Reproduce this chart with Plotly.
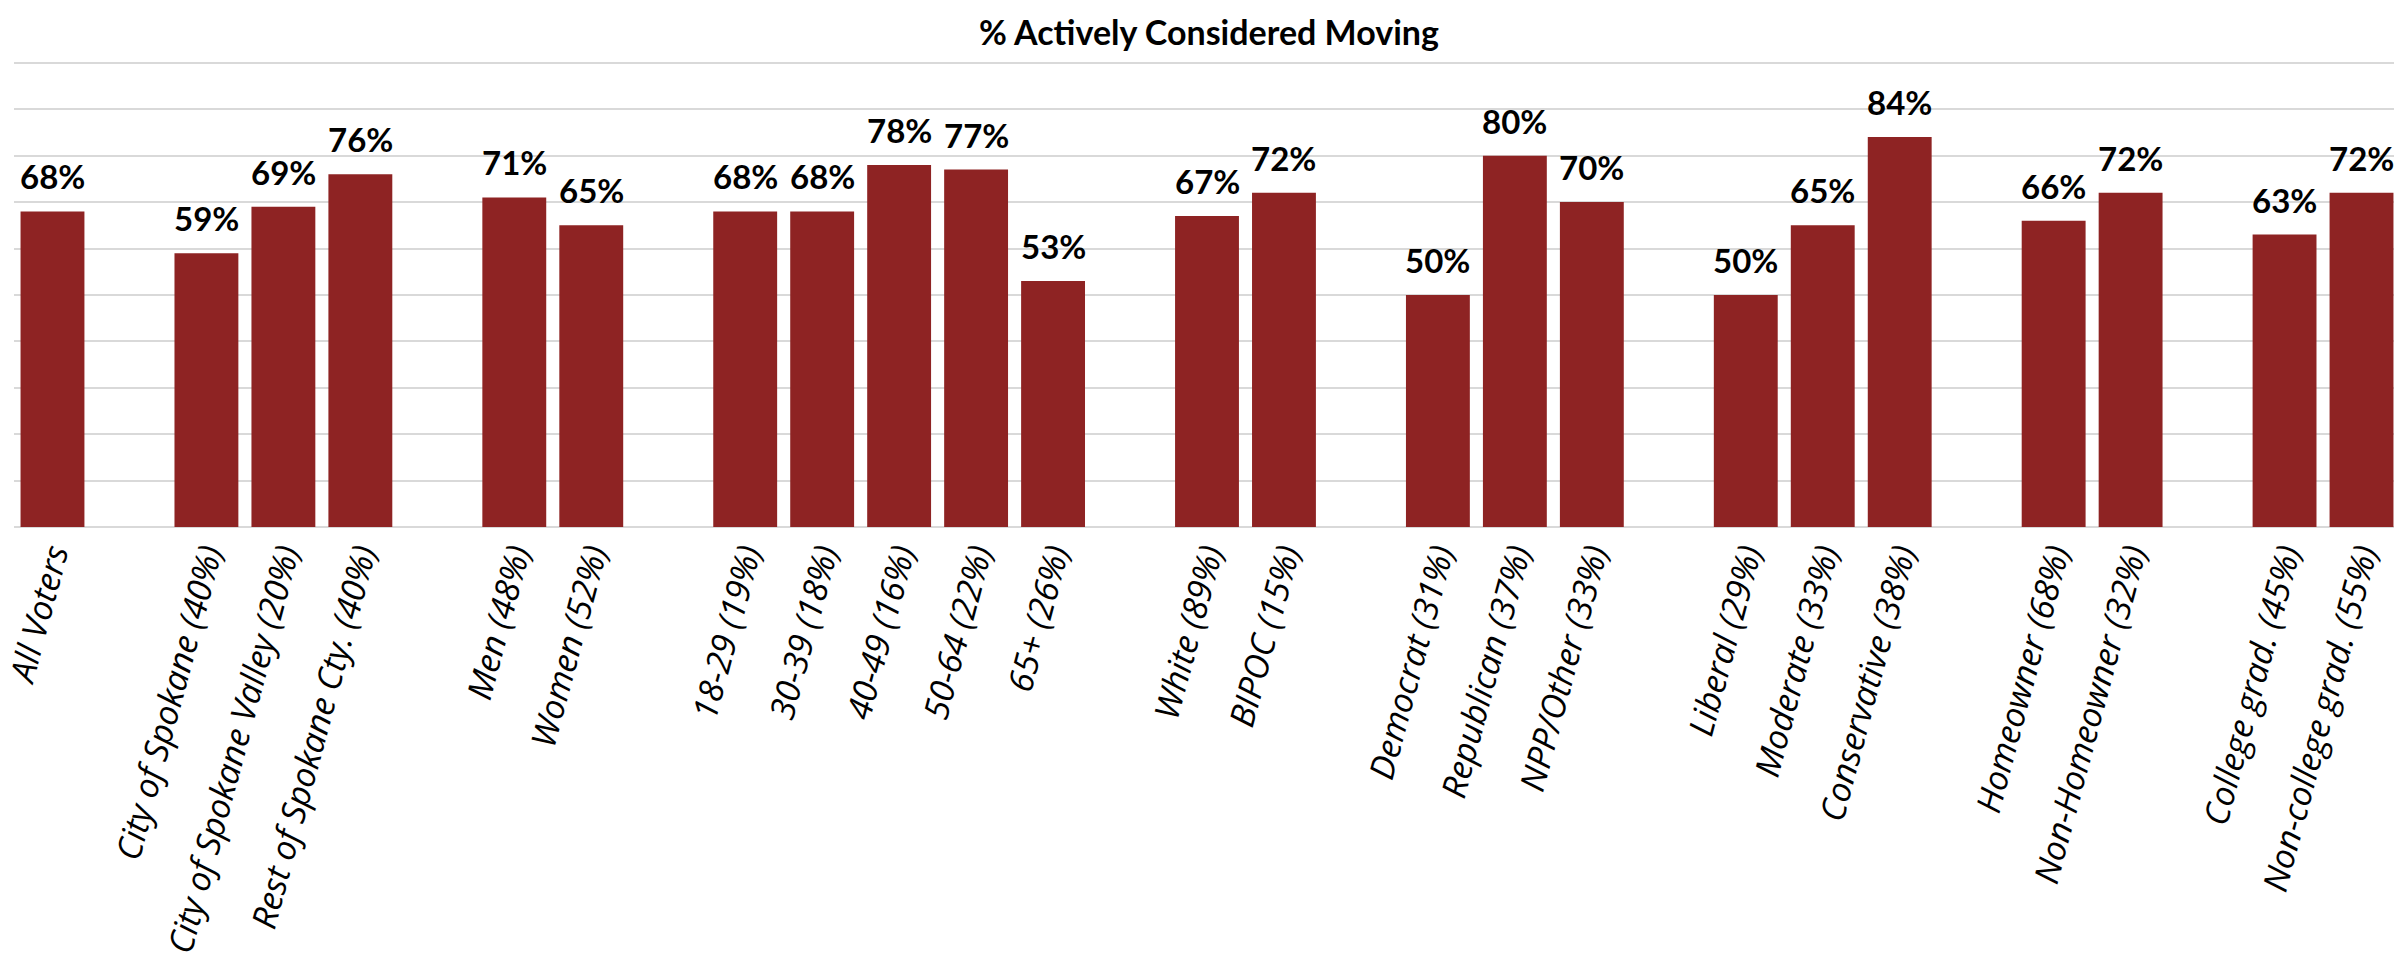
import plotly.graph_objects as go

# ---- data ----
group_labels = [
    ["All Voters"],
    ["City of Spokane (40%)", "City of Spokane Valley (20%)", "Rest of Spokane Cty. (40%)"],
    ["Men (48%)", "Women (52%)"],
    ["18-29 (19%)", "30-39 (18%)", "40-49 (16%)", "50-64 (22%)", "65+ (26%)"],
    ["White (89%)", "BIPOC (15%)"],
    ["Democrat (31%)", "Republican (37%)", "NPP/Other (33%)"],
    ["Liberal (29%)", "Moderate (33%)", "Conservative (38%)"],
    ["Homeowner (68%)", "Non-Homeowner (32%)"],
    ["College grad. (45%)", "Non-college grad. (55%)"],
]
group_values = [
    [68],
    [59, 69, 76],
    [71, 65],
    [68, 68, 78, 77, 53],
    [67, 72],
    [50, 80, 70],
    [50, 65, 84],
    [66, 72],
    [63, 72],
]
title_text = "% Actively Considered Moving"

# build category axis with blank spacer categories between groups
categories, values = [], []
for gi, (labs, vals) in enumerate(zip(group_labels, group_values)):
    if gi > 0:
        categories.append(" " * gi)
        values.append(None)
    categories.extend(labs)
    values.extend(vals)

BAR = "#8E2323"
FONT_B = "Lato, 'Liberation Sans', Arial, sans-serif"
FONT_T = "'Open Sans', 'Noto Sans', sans-serif"

fig = go.Figure()
fig.add_trace(go.Bar(
    x=categories, y=values, marker=dict(color=BAR, line=dict(width=0)),
    hoverinfo="x+y",
))

for c, v in zip(categories, values):
    if v is None:
        continue
    fig.add_annotation(x=c, y=v, text=f"{v}%", showarrow=False,
                       yanchor="bottom", yshift=13,
                       font=dict(family=FONT_B, size=33, color="black", weight="bold"))

fig.update_layout(
    width=2402, height=955,
    paper_bgcolor="white", plot_bgcolor="white",
    margin=dict(l=6, r=10, t=53, b=436),
    bargap=0.17,
    showlegend=False,
    title=dict(text=f"<b>{title_text}</b>", x=0.5, xanchor="center",
               y=0.974, yanchor="middle",
               font=dict(family=FONT_B, size=34, color="black")),
)
fig.update_xaxes(
    type="category", tickangle=-75, automargin=False,
    tickfont=dict(family=FONT_T, size=34, color="black", style="italic"),
    showline=False, ticks="", showgrid=False,
)
fig.update_yaxes(
    range=[0, 100.4], dtick=10, showgrid=True, gridcolor="#D9D9D9", gridwidth=2,
    zeroline=True, zerolinecolor="#D9D9D9", zerolinewidth=2,
    showticklabels=False, automargin=False,
)

fig.write_html("out.html")
